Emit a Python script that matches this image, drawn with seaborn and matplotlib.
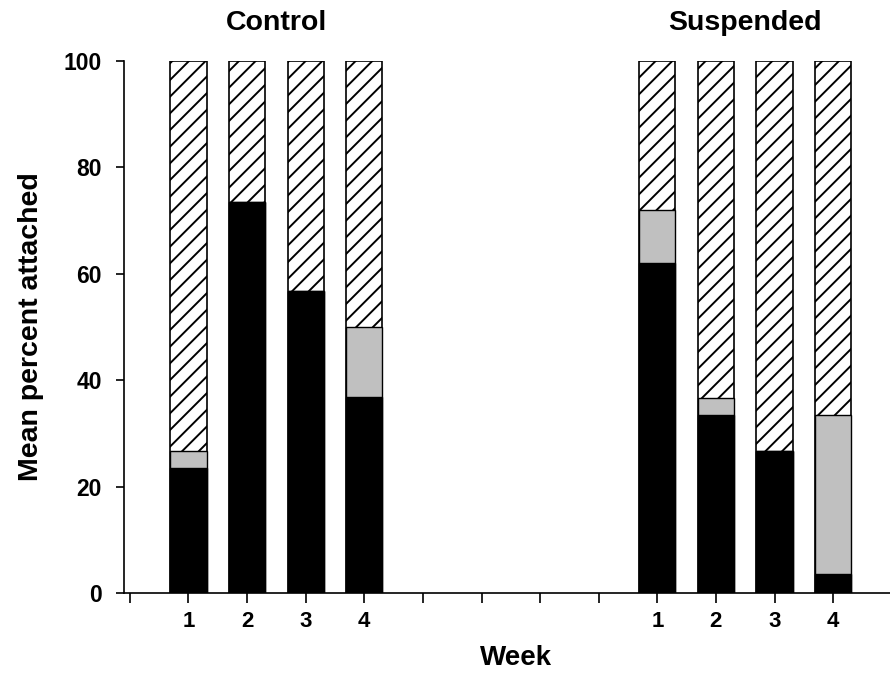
import pandas as pd
import matplotlib
matplotlib.use('Agg')
import matplotlib.pyplot as plt
import seaborn as sns

# Data (cumulative tops of each stacked segment)
weeks = [1, 2, 3, 4]
control_pos = [1, 2, 3, 4]
suspended_pos = [9, 10, 11, 12]
control_black = [23.5, 73.5, 56.8, 36.8]
control_gray_top = [26.7, 73.5, 56.8, 50.0]
suspended_black = [62.0, 33.5, 26.7, 3.5]
suspended_gray_top = [72.0, 36.6, 26.7, 33.5]
total = [100, 100, 100, 100]

df = pd.DataFrame({
    'pos': control_pos + suspended_pos,
    'black': control_black + suspended_black,
    'gray': control_gray_top + suspended_gray_top,
    'total': total + total,
})

sns.set_style('ticks')
plt.rcParams['font.family'] = ['Liberation Sans', 'DejaVu Sans']
plt.rcParams['hatch.linewidth'] = 1.4
plt.rcParams['hatch.color'] = 'black'
for k in ['text.color', 'axes.labelcolor', 'xtick.color', 'ytick.color', 'axes.edgecolor']:
    plt.rcParams[k] = 'black'

fig = plt.figure(figsize=(8.9, 6.73), dpi=100)
ax = fig.add_axes([124 / 890, 80 / 673, 766 / 890, 532 / 673])

w = 0.62
sns.barplot(data=df, x='pos', y='total', native_scale=True, width=w, ax=ax,
            color='white', edgecolor='black', linewidth=1.2, hatch='//',
            saturation=1, errorbar=None)
sns.barplot(data=df, x='pos', y='gray', native_scale=True, width=w, ax=ax,
            color='#c0c0c0', edgecolor='black', linewidth=1.0,
            saturation=1, errorbar=None)
sns.barplot(data=df, x='pos', y='black', native_scale=True, width=w, ax=ax,
            color='black', edgecolor='black', linewidth=1.0,
            saturation=1, errorbar=None)

ax.set_xlim(-0.1, 12.97)
ax.set_ylim(0, 100)
ax.set_xticks(range(0, 13))
labels = [''] * 13
for p, wk in zip(control_pos + suspended_pos, weeks + weeks):
    labels[p] = str(wk)
ax.set_xticklabels(labels, fontsize=16, fontweight='bold')
ax.set_yticks([0, 20, 40, 60, 80, 100])
ax.set_yticklabels(['0', '20', '40', '60', '80', '100'], fontsize=16.5, fontweight='bold')
ax.tick_params(axis='x', length=7, width=1.2, pad=6)
ax.tick_params(axis='y', length=6, width=1.2, pad=10)

sns.despine(ax=ax)
ax.spines['left'].set_linewidth(1.2)
ax.spines['bottom'].set_linewidth(1.2)

ax.set_xlabel('Week', fontsize=20, fontweight='bold')
ax.xaxis.set_label_coords(0.512, -0.097)
ax.set_ylabel('Mean percent attached', fontsize=20.5, fontweight='bold', labelpad=14)

ax.text(2.5, 107.2, 'Control', ha='center', va='center', fontsize=20.5, fontweight='bold')
ax.text(10.5, 107.2, 'Suspended', ha='center', va='center', fontsize=20.5, fontweight='bold')

fig.savefig('out.png', dpi=100)
